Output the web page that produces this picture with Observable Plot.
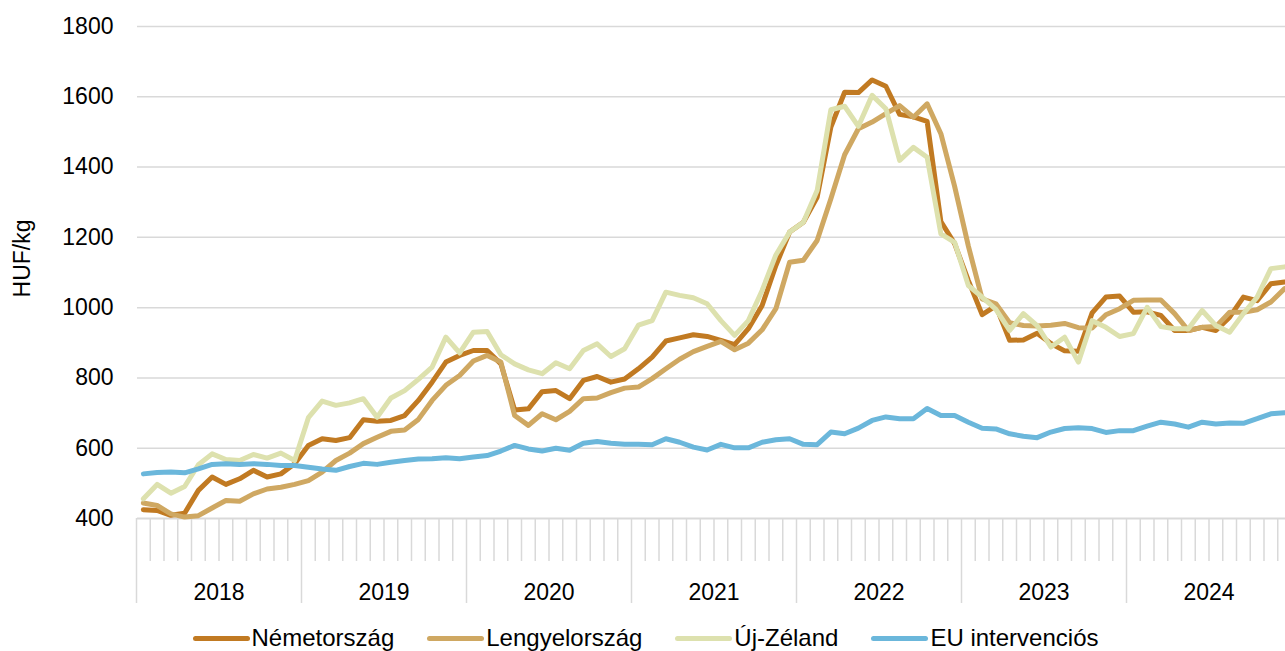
<!DOCTYPE html>
<html>
<head>
<meta charset="utf-8">
<script src="https://cdn.jsdelivr.net/npm/d3@7"></script>
<script src="https://cdn.jsdelivr.net/npm/@observablehq/plot@0.6"></script>
<style>
  html, body { margin: 0; padding: 0; background: #fff; overflow: hidden; }
  #legend { display: flex; justify-content: center; align-items: center; gap: 33px;
    font-family: "Liberation Sans", Arial, sans-serif; font-size: 24px; color: #000;
    margin-top: 9px; padding-left: 6px; }
  .item { display: flex; align-items: center; }
  .sw { display: inline-block; width: 57px; height: 5px; border-radius: 3px; margin-right: 2px; }
</style>
</head>
<body>
<div id="chart"></div>
<div id="legend"></div>
<script>
// Monthly prices, Jan 2018 – Dec 2024 (HUF/kg)
const years = ["2018", "2019", "2020", "2021", "2022", "2023", "2024"];
const seriesNames = ["Németország", "Lengyelország", "Új-Zéland", "EU intervenciós"];
const seriesColors = ["#C17A22", "#CFA862", "#DDE1AE", "#6BB7DB"];
const yTicks = [400, 600, 800, 1000, 1200, 1400, 1600, 1800];

const nemetorszag = [
  425, 423, 409, 415, 480, 518, 497, 513, 537, 518, 527, 556,
  608, 627, 622, 630, 681, 677, 679, 693, 736, 788, 845, 864,
  878, 878, 840, 709, 712, 761, 764, 741, 793, 804, 788, 797,
  826, 859, 905, 914, 923, 918, 907, 895, 940, 1006, 1120, 1215,
  1243, 1314, 1514, 1613, 1612, 1648, 1630, 1550, 1543, 1530, 1245, 1182,
  1077, 980, 1005, 907, 908, 927, 898, 877, 876, 985, 1030, 1033,
  987, 988, 978, 935, 935, 944, 935, 973, 1030, 1020, 1068, 1073
];
const lengyelorszag = [
  444, 437, 413, 404, 408, 430, 451, 449, 470, 484, 489, 497,
  508, 532, 565, 586, 613, 631, 648, 652, 682, 736, 779, 807,
  848, 864, 845, 693, 665, 698, 681, 705, 741, 743, 758, 771,
  774, 798, 826, 853, 875, 890, 904, 880, 899, 937, 997, 1129,
  1135, 1191, 1310, 1435, 1509, 1528, 1552, 1575, 1542, 1580, 1495, 1345,
  1175, 1025, 1011, 957, 949, 948, 950, 955, 943, 942, 980, 997,
  1021, 1022, 1022, 983, 935, 944, 946, 987, 987, 994, 1016, 1054
];
const ujZeland = [
  456, 497, 472, 491, 553, 584, 568, 565, 582, 572, 586, 565,
  687, 734, 722, 729, 741, 688, 743, 764, 796, 831, 916, 871,
  930, 932, 866, 840, 823, 812, 843, 826, 878, 897, 861, 883,
  950, 963, 1044, 1035, 1028, 1011, 963, 921, 963, 1049, 1150, 1215,
  1243, 1333, 1563, 1573, 1516, 1604, 1566, 1419, 1456, 1428, 1210, 1186,
  1063, 1030, 995, 935, 983, 949, 888, 916, 845, 963, 944, 918,
  926, 1001, 946, 940, 940, 992, 949, 930, 983, 1030, 1111, 1116
];
const euIntervencios = [
  527, 531, 532, 530, 541, 554, 556, 554, 556, 554, 551, 551,
  546, 541, 537, 548, 557, 554, 560, 565, 569, 570, 573, 570,
  575, 579, 592, 608, 598, 592, 600, 594, 614, 619, 614, 611,
  611, 610, 627, 617, 603, 595, 611, 601, 601, 617, 624, 627,
  611, 610, 646, 641, 657, 679, 689, 684, 684, 713, 693, 693,
  674, 657, 655, 641, 634, 630, 646, 656, 658, 656, 645, 650,
  650, 663, 674, 669, 660, 674, 669, 672, 671, 684, 698, 701
];

const seriesValues = [nemetorszag, lengyelorszag, ujZeland, euIntervencios];
const nMonths = years.length * 12;

// long table built from the arrays
const rows = [];
seriesValues.forEach((vals, s) => {
  vals.forEach((v, i) => rows.push({ series: seriesNames[s], month: i + 0.5, value: v }));
});

const monthBoundaries = d3.range(1, nMonths).filter(m => m % 12 !== 0);
const yearBoundaries = d3.range(0, nMonths + 1, 12);
const yearMids = years.map((y, k) => k * 12 + 6);
const yearLabel = new Map(yearMids.map((m, k) => [m, years[k]]));

const W = 1285, H = 615;
const plot = Plot.plot({
  width: W,
  height: H,
  marginTop: 26,
  marginBottom: 97,
  marginLeft: 137,
  marginRight: 0,
  style: { fontFamily: "'Liberation Sans', Arial, sans-serif", fontSize: "23px", color: "#000", background: "#fff", overflow: "hidden" },
  x: { domain: [0, nMonths], range: [136, 1291] },
  y: { domain: [400, 1800] },
  color: { domain: seriesNames, range: seriesColors },
  marks: [
    Plot.ruleY(yTicks.filter(d => d > 400), { stroke: "#d9d9d9", strokeWidth: 1.5 }),
    Plot.axisY({ ticks: yTicks, tickSize: 0, tickPadding: 24, label: null, tickFormat: d => String(d), fontSize: 23 }),
    Plot.text(["HUF/kg"], { frameAnchor: "left", textAnchor: "middle", dx: -115, dy: -14, rotate: -90, fontSize: 23, fill: "#000" }),
    Plot.axisX({ ticks: monthBoundaries, tickSize: 43, tickFormat: () => "", stroke: "#d9d9d9", strokeWidth: 1.5, label: null }),
    Plot.axisX({ ticks: yearBoundaries, tickSize: 85, tickFormat: () => "", stroke: "#d9d9d9", strokeWidth: 1.5, label: null }),
    Plot.axisX({ ticks: yearMids, tickSize: 0, tickPadding: 65, tickFormat: d => yearLabel.get(d), label: null, fontSize: 23 }),
    Plot.ruleY([400], { stroke: "#d9d9d9", strokeWidth: 2 }),
    Plot.line(rows, { x: "month", y: "value", z: "series", stroke: "series", strokeWidth: 5, strokeLinejoin: "round", strokeLinecap: "round" })
  ]
});
document.getElementById("chart").appendChild(plot);

const legend = document.getElementById("legend");
seriesNames.forEach((name, k) => {
  const item = document.createElement("div");
  item.className = "item";
  const sw = document.createElement("span");
  sw.className = "sw";
  sw.style.background = seriesColors[k];
  const t = document.createElement("span");
  t.textContent = name;
  item.appendChild(sw);
  item.appendChild(t);
  legend.appendChild(item);
});
</script>
</body>
</html>
